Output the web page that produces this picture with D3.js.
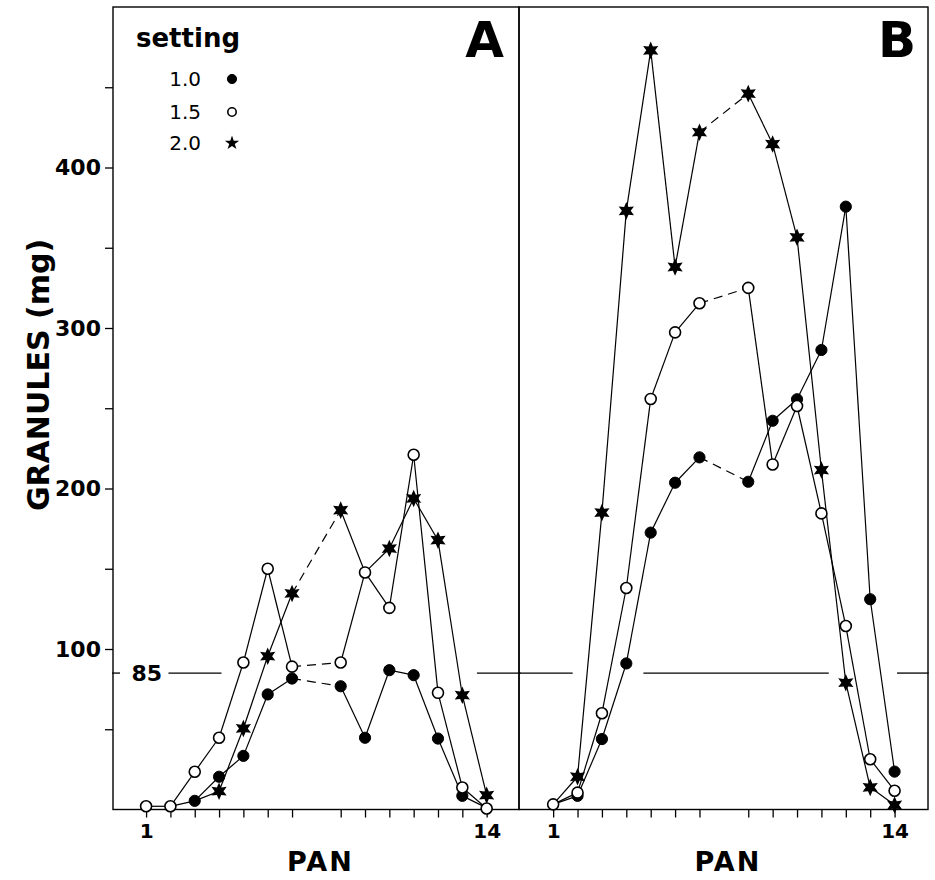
<!DOCTYPE html>
<html>
<head>
<meta charset="utf-8">
<script src="https://cdn.jsdelivr.net/npm/d3@7"></script>
<style>
  html, body { margin: 0; padding: 0; background: #fff; }
  svg { display: block; }
  text { font-family: "DejaVu Sans", sans-serif; fill: #000; }
</style>
</head>
<body>
<svg id="chart" width="935" height="880"></svg>
<script>
// ---------- data ----------
const panLabels = ["1","2","3","4","5","6","7","8","9","10","11","12","13","14"];
// horizontal slot of each pan on the axis (one slot is left empty between pan 7 and pan 8)
const panSlots = [0, 1, 2, 3, 4, 5, 6, 8, 9, 10, 11, 12, 13, 14];

const settings = ["1.0", "1.5", "2.0"];

// Panel A
const A_set10 = [null, 2, 5.4, 20.4, 33.4, 71.7, 81.6, 76.8, 44.7, 86.8, 83.7, 44.2, 8.5, 1];
const A_set15 = [2, 2, 23.5, 44.7, 91.6, 150, 89, 91.6, 147.7, 125.6, 221, 72.7, 13.7, 0.6];
const A_set20 = [null, null, 5.4, 11.4, 50.5, 95.5, 134.6, 186.5, 147.7, 162.6, 193.8, 167.8, 71.2, 8.9];

// Panel B
const B_set10 = [3.2, 8.5, 43.9, 91, 172.5, 203.6, 219.4, 204.2, 242.2, 255.6, 286.3, 375.6, 131, 23.6];
const B_set15 = [3.2, 10.5, 60, 138, 255.8, 297.3, 315.4, 325, 215, 251.4, 184.5, 114.3, 31.3, 11.7];
const B_set20 = [3.2, 20.4, 185, 373, 473, 338, 422, 446, 414.6, 356.5, 211.5, 79, 13.8, 2.8];

const yTickValues = [50, 100, 150, 200, 250, 300, 350, 400, 450];
const yTickLabels = [100, 200, 300, 400];

const refValue = 85;
// visible pieces of the 85 mg reference line, in slot units
const A_refPieces = [[-1.4, -1.07], [0.92, 3.1], [13.6, 15.4]];
const B_refPieces = [[-1.45, 0.8], [3.7, 11.3], [14.1, 15.4]];

// ---------- layout ----------
const svg = d3.select("#chart");
const plotTop = 7, plotBottom = 809.5;
const y = d3.scaleLinear().domain([0, 500]).range([plotBottom, plotTop]);

const panels = [
  { name: "A", x: d3.scaleLinear().domain([-1.36, 15.33]).range([113, 519]),
    series: [A_set10, A_set15, A_set20], ref: A_refPieces, letterRight: 504 },
  { name: "B", x: d3.scaleLinear().domain([-1.4, 15.37]).range([519, 928]),
    series: [B_set10, B_set15, B_set20], ref: B_refPieces, letterRight: 916 }
];

// star path (six points)
function starPath(r, ri, n) {
  const pts = [];
  for (let i = 0; i < 2 * n; i++) {
    const a = Math.PI * i / n - Math.PI / 2;
    const rr = i % 2 === 0 ? r : ri;
    pts.push([rr * Math.cos(a), rr * Math.sin(a)]);
  }
  return "M" + pts.map(p => p[0].toFixed(2) + "," + p[1].toFixed(2)).join("L") + "Z";
}
const star6 = starPath(8.8, 4.4, 6);
const star5 = d3.symbol().type(d3.symbolStar).size(64)();

function drawMarker(g, kind, cx, cy, small) {
  if (kind === 0) {
    g.append("circle").attr("cx", cx).attr("cy", cy).attr("r", small ? 4.6 : 5.6)
      .attr("fill", "#000").attr("stroke", "#000").attr("stroke-width", 1);
  } else if (kind === 1) {
    g.append("circle").attr("cx", cx).attr("cy", cy).attr("r", small ? 4.2 : 5.5)
      .attr("fill", "#fff").attr("stroke", "#000").attr("stroke-width", 1.6);
  } else {
    g.append("path").attr("d", small ? star5 : star6)
      .attr("transform", `translate(${cx},${cy})`)
      .attr("fill", "#000");
  }
}

panels.forEach((p, pi) => {
  const x = p.x;
  const g = svg.append("g");

  // frame
  g.append("rect")
    .attr("x", x.range()[0]).attr("y", plotTop)
    .attr("width", x.range()[1] - x.range()[0]).attr("height", plotBottom - plotTop)
    .attr("fill", "none").attr("stroke", "#000").attr("stroke-width", 1.4);

  // x axis
  const xAxis = d3.axisBottom(x)
    .tickValues(panSlots)
    .tickSize(8)
    .tickPadding(6)
    .tickFormat((d, i) => (i === 0 || i === panSlots.length - 1) ? panLabels[i] : "");
  const xa = g.append("g").attr("transform", `translate(0,${plotBottom})`).call(xAxis);
  xa.select(".domain").remove();
  xa.selectAll("line").attr("stroke", "#000").attr("stroke-width", 1.3);
  xa.selectAll("text").attr("font-size", 20).attr("font-weight", "bold")
    .style("font-family", "DejaVu Sans, sans-serif");

  g.append("text")
    .attr("x", (x(panSlots[0]) + x(panSlots[panSlots.length - 1])) / 2 + 4)
    .attr("y", 871)
    .attr("text-anchor", "middle")
    .attr("font-size", 27).attr("font-weight", "bold")
    .attr("letter-spacing", 2)
    .text("PAN");

  // reference line at 85
  p.ref.forEach(seg => {
    g.append("line")
      .attr("x1", x(seg[0])).attr("x2", x(seg[1]))
      .attr("y1", y(refValue)).attr("y2", y(refValue))
      .attr("stroke", "#000").attr("stroke-width", 1.3);
  });

  // lines
  p.series.forEach((vals, si) => {
    for (let i = 0; i < vals.length - 1; i++) {
      if (vals[i] == null || vals[i + 1] == null) continue;
      const gap = panSlots[i + 1] - panSlots[i] > 1;
      g.append("line")
        .attr("x1", x(panSlots[i])).attr("y1", y(vals[i]))
        .attr("x2", x(panSlots[i + 1])).attr("y2", y(vals[i + 1]))
        .attr("stroke", "#000").attr("stroke-width", 1.2)
        .attr("stroke-dasharray", gap ? "9,6" : null);
    }
  });

  // markers: stars, then filled, then open circles on top
  const order = [2, 0, 1];
  order.forEach((si, oi) => {
    const vals = p.series[si];
    vals.forEach((v, i) => {
      if (v == null) return;
      // skip a marker that is completely covered by a marker drawn later at the same point
      const covered = order.slice(oi + 1).some(sj => {
        const w = p.series[sj][i];
        return w != null && Math.abs(y(w) - y(v)) < 1.2;
      });
      if (covered) return;
      drawMarker(g, si, x(panSlots[i]), y(v), false);
    });
  });

  // panel letter
  g.append("text")
    .attr("x", p.letterRight).attr("y", 57)
    .attr("text-anchor", "end")
    .attr("font-size", 50).attr("font-weight", "bold")
    .text(p.name);
});

// y axis (left of panel A)
const yAxis = d3.axisLeft(y)
  .tickValues(yTickValues)
  .tickSize(8)
  .tickPadding(4)
  .tickFormat(d => yTickLabels.includes(d) ? d : "");
const ya = svg.append("g").attr("transform", `translate(113,0)`).call(yAxis);
ya.select(".domain").remove();
ya.selectAll("line").attr("stroke", "#000").attr("stroke-width", 1.3);
ya.selectAll("text").attr("font-size", 22).attr("font-weight", "bold")
  .style("font-family", "DejaVu Sans, sans-serif");

svg.append("text")
  .attr("transform", `translate(49,375) rotate(-90)`)
  .attr("text-anchor", "middle")
  .attr("font-size", 30).attr("font-weight", "bold")
  .text("GRANULES (mg)");

// 85 label
svg.append("text")
  .attr("x", 162).attr("y", y(refValue) + 8)
  .attr("text-anchor", "end")
  .attr("font-size", 22).attr("font-weight", "bold")
  .text(refValue);

// legend
const lg = svg.append("g");
lg.append("text").attr("x", 136).attr("y", 47)
  .attr("font-size", 26).attr("font-weight", "bold").text("setting");
const legendY = [86, 119, 150];
settings.forEach((s, i) => {
  lg.append("text").attr("x", 201).attr("y", legendY[i])
    .attr("text-anchor", "end").attr("font-size", 20).text(s);
  drawMarker(lg, i, 232, legendY[i] - 7, true);
});
</script>
</body>
</html>
